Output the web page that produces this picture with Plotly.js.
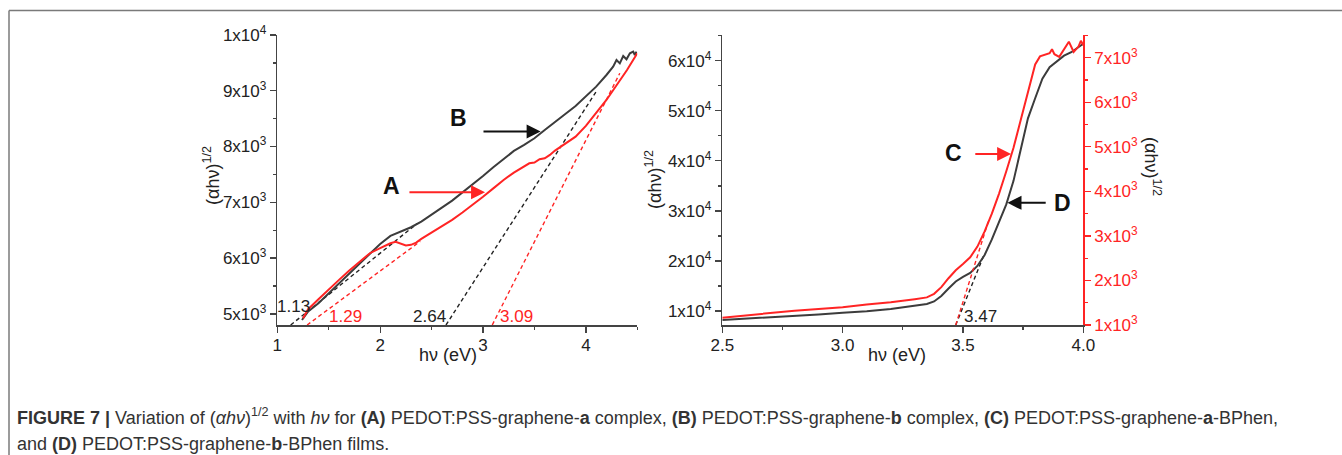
<!DOCTYPE html>
<html>
<head>
<meta charset="utf-8">
<script src="https://cdn.plot.ly/plotly-3.0.1.min.js"></script>
<style>
  html, body { margin: 0; padding: 0; background: #ffffff; }
  #fig { width: 1342px; height: 455px; }
</style>
</head>
<body>
<div id="fig"></div>
<script>
// ---- Panel 1: PEDOT:PSS-graphene-a (A) and -b (B) complexes ----
const energyB = [1.24, 1.30, 1.40, 1.50, 1.60, 1.70, 1.80, 1.90, 2.00, 2.10, 2.20, 2.30, 2.40, 2.50,
  2.60, 2.70, 2.80, 2.90, 3.00, 3.10, 3.20, 3.30, 3.40, 3.50, 3.60, 3.70, 3.80, 3.90, 4.00, 4.10,
  4.20, 4.265, 4.298, 4.330, 4.363, 4.395, 4.428, 4.460, 4.476, 4.492];
const signalB = [4890, 5042, 5191, 5370, 5550, 5717, 5908, 6087, 6254, 6398, 6475, 6553, 6655, 6774,
  6906, 7031, 7174, 7324, 7473, 7628, 7772, 7921, 8029, 8148, 8297, 8447, 8584, 8728, 8907, 9074,
  9283, 9432, 9552, 9492, 9624, 9564, 9671, 9701, 9641, 9701];

const energyA = [1.25, 1.30, 1.40, 1.50, 1.60, 1.70, 1.80, 1.90, 2.00, 2.10, 2.15, 2.20, 2.25, 2.30,
  2.35, 2.40, 2.50, 2.60, 2.70, 2.80, 2.90, 3.00, 3.10, 3.20, 3.30, 3.40, 3.45, 3.50, 3.55, 3.60,
  3.65, 3.70, 3.80, 3.90, 4.00, 4.10, 4.20, 4.30, 4.40, 4.50];
const signalA = [4922, 5084, 5263, 5442, 5609, 5777, 5938, 6087, 6177, 6266, 6290, 6254, 6225, 6237,
  6278, 6344, 6458, 6565, 6685, 6816, 6950, 7100, 7250, 7401, 7533, 7640, 7700, 7712, 7772, 7790,
  7849, 7927, 8059, 8178, 8369, 8596, 8835, 9104, 9373, 9672];

// tangent extrapolations: [start, end] pairs
const tangentB1X = [1.13, 2.36], tangentB1Y = [4800, 6620];
const tangentA1X = [1.29, 2.39], tangentA1Y = [4800, 6300];
const tangentB2X = [2.64, 4.10], tangentB2Y = [4800, 8985];
const tangentA2X = [3.09, 4.33], tangentA2Y = [4800, 9315];
const gapLabelsLeft = ['1.13', '1.29', '2.64', '3.09'];

const leftYTicks = [5000, 6000, 7000, 8000, 9000, 10000];
const leftYTickText = ['5x10<sup>3</sup>', '6x10<sup>3</sup>', '7x10<sup>3</sup>', '8x10<sup>3</sup>',
  '9x10<sup>3</sup>', '1x10<sup>4</sup>'];
const leftXTicks = [1, 2, 3, 4];

// ---- Panel 2: BPhen films, C (right axis) and D (left axis) ----
const energyD = [2.50, 2.60, 2.70, 2.80, 2.90, 3.00, 3.10, 3.20, 3.30, 3.35, 3.38, 3.41, 3.44, 3.47,
  3.50, 3.53, 3.56, 3.59, 3.62, 3.65, 3.68, 3.71, 3.74, 3.77, 3.80, 3.83, 3.86, 3.89, 3.92, 3.95,
  3.98, 4.00];
const signalD = [8200, 8450, 8750, 9000, 9300, 9650, 9950, 10400, 11000, 11400, 11900, 13000, 14500,
  15900, 16800, 17600, 19000, 21200, 24300, 27800, 31300, 36000, 42000, 48500, 52500, 56400, 58700,
  59900, 61000, 61700, 62800, 63400];

const energyC = [2.50, 2.60, 2.70, 2.80, 2.90, 3.00, 3.10, 3.20, 3.30, 3.35, 3.38, 3.41, 3.44, 3.47,
  3.50, 3.53, 3.56, 3.59, 3.62, 3.65, 3.68, 3.71, 3.74, 3.77, 3.80, 3.82, 3.84, 3.86, 3.87, 3.88,
  3.90, 3.92, 3.94, 3.96, 3.98, 3.99, 4.00];
const signalC = [1165, 1220, 1270, 1320, 1360, 1400, 1460, 1510, 1580, 1620, 1700, 1850, 2050, 2230,
  2370, 2520, 2760, 3100, 3500, 3950, 4450, 4980, 5600, 6250, 6850, 7030, 7060, 7100, 7190, 7080,
  7020, 7180, 7360, 7130, 7250, 7380, 7280];

const tangentDX = [3.47, 3.59], tangentDY = [7200, 21500];
const tangentCX = [3.47, 3.605], tangentCY = [1000, 3320];
const gapLabelRight = '3.47';

const rightXTicks = [2.5, 3.0, 3.5, 4.0];
const rightYTicks = [10000, 20000, 30000, 40000, 50000, 60000];
const rightYTickText = ['1x10<sup>4</sup>', '2x10<sup>4</sup>', '3x10<sup>4</sup>', '4x10<sup>4</sup>',
  '5x10<sup>4</sup>', '6x10<sup>4</sup>'];
const redYTicks = [1000, 2000, 3000, 4000, 5000, 6000, 7000];
const redYTickText = ['1x10<sup>3</sup>', '2x10<sup>3</sup>', '3x10<sup>3</sup>', '4x10<sup>3</sup>',
  '5x10<sup>3</sup>', '6x10<sup>3</sup>', '7x10<sup>3</sup>'];

// ---- styling ----
const W = 1342, H = 455;
const px = v => v / W;          // horizontal pixel -> paper
const py = v => 1 - v / H;      // vertical pixel -> paper
const FONT = 'Liberation Sans, Arial, sans-serif';
const RED = '#ff2424';
const DARK = '#3c3c3c';
const AXIS = '#444444';

const leftDomainX = [px(277.3), px(637.3)];
const rightDomainX = [px(722.3), px(1083.3)];
const domainY = [py(325), py(35)];

function lineTrace(x, y, color, xa, ya, dashed) {
  return {
    type: 'scatter', mode: 'lines', x: x, y: y, xaxis: xa, yaxis: ya,
    line: dashed ? { color: color, width: 1.4, dash: '4px,3px' } : { color: color, width: 2 },
    hoverinfo: 'skip', showlegend: false
  };
}

const traces = [
  lineTrace(tangentB1X, tangentB1Y, '#222', 'x', 'y', true),
  lineTrace(tangentA1X, tangentA1Y, RED, 'x', 'y', true),
  lineTrace(tangentB2X, tangentB2Y, '#222', 'x', 'y', true),
  lineTrace(tangentA2X, tangentA2Y, RED, 'x', 'y', true),
  lineTrace(energyB, signalB, DARK, 'x', 'y', false),
  lineTrace(energyA, signalA, RED, 'x', 'y', false),
  lineTrace(tangentDX, tangentDY, '#222', 'x2', 'y3', true),
  lineTrace(tangentCX, tangentCY, RED, 'x2', 'y4', true),
  lineTrace(energyD, signalD, DARK, 'x2', 'y3', false),
  lineTrace(energyC, signalC, RED, 'x2', 'y4', false)
];

const tickFont = { family: FONT, size: 17, color: '#222' };
const baseAxis = {
  showgrid: false, zeroline: false, showline: true, linecolor: AXIS, linewidth: 1.5,
  ticks: 'outside', ticklen: 6, tickwidth: 1.3, tickcolor: AXIS, tickfont: tickFont
};
function axis(extra) { return Object.assign({}, baseAxis, extra); }

const layout = {
  width: W, height: H,
  margin: { l: 0, r: 0, t: 0, b: 0 },
  paper_bgcolor: '#ffffff', plot_bgcolor: 'rgba(0,0,0,0)',
  font: { family: FONT, color: '#222' },
  showlegend: false,
  xaxis: axis({
    domain: leftDomainX, anchor: 'y', range: [1, 4.5], tickmode: 'array', tickvals: leftXTicks,
    ticklabelstandoff: -2,
    minor: { tickmode: 'linear', tick0: 1, dtick: 0.5, ticks: 'outside', ticklen: 3, tickcolor: AXIS }
  }),
  yaxis: axis({
    domain: domainY, anchor: 'x', range: [4800, 10000], tickmode: 'array',
    tickvals: leftYTicks, ticktext: leftYTickText,
    minor: { tickmode: 'linear', tick0: 0, dtick: 500, ticks: 'outside', ticklen: 3, tickcolor: AXIS }
  }),
  xaxis3: axis({
    overlaying: 'x', side: 'top', anchor: 'y', range: [1, 4.5], ticks: 'inside', ticklen: 5,
    tickmode: 'array', tickvals: leftXTicks, showticklabels: false,
    minor: { tickmode: 'linear', tick0: 1, dtick: 0.5, ticks: 'inside', ticklen: 3, tickcolor: AXIS }
  }),
  yaxis5: axis({
    overlaying: 'y', side: 'right', anchor: 'x', range: [4800, 10000], ticks: 'inside', ticklen: 5,
    tickmode: 'array', tickvals: leftYTicks, showticklabels: false,
    minor: { tickmode: 'linear', tick0: 0, dtick: 500, ticks: 'inside', ticklen: 3, tickcolor: AXIS }
  }),
  xaxis2: axis({
    domain: rightDomainX, anchor: 'y3', range: [2.5, 4.0], tickmode: 'array', tickvals: rightXTicks,
    tickformat: '.1f', ticklabelstandoff: -2,
    minor: { tickmode: 'linear', tick0: 2.5, dtick: 0.25, ticks: 'outside', ticklen: 3, tickcolor: AXIS }
  }),
  xaxis4: axis({
    overlaying: 'x2', side: 'top', anchor: 'y3', range: [2.5, 4.0], ticks: 'inside', ticklen: 5,
    tickmode: 'array', tickvals: rightXTicks, showticklabels: false,
    minor: { tickmode: 'linear', tick0: 2.5, dtick: 0.25, ticks: 'inside', ticklen: 3, tickcolor: AXIS }
  }),
  yaxis3: axis({
    domain: domainY, anchor: 'x2', range: [7200, 65140], tickmode: 'array',
    tickvals: rightYTicks, ticktext: rightYTickText,
    minor: { tickmode: 'linear', tick0: 0, dtick: 5000, ticks: 'outside', ticklen: 3, tickcolor: AXIS }
  }),
  yaxis4: axis({
    overlaying: 'y3', side: 'right', anchor: 'x2', range: [1000, 7510], tickmode: 'array',
    tickvals: redYTicks, ticktext: redYTickText, linecolor: RED, tickcolor: RED,
    tickfont: { family: FONT, size: 17, color: RED },
    minor: { tickmode: 'linear', tick0: 0, dtick: 500, ticks: 'outside', ticklen: 3, tickcolor: RED }
  }),
  shapes: [
    { type: 'line', xref: 'paper', yref: 'paper', x0: px(9), x1: 1, y0: py(10.5), y1: py(10.5),
      line: { color: '#7a7a7a', width: 1.5 } },
    { type: 'line', xref: 'paper', yref: 'paper', x0: px(9), x1: px(9), y0: py(10.5), y1: 0,
      line: { color: '#7a7a7a', width: 1.5 } }
  ],
  annotations: []
};

const ann = layout.annotations;
const titleFont = { family: FONT, size: 18, color: '#222' };
const yTitle = '(αhν)<sup>1/2</sup>';

// axis titles
ann.push({ xref: 'paper', yref: 'paper', x: px(448), y: py(355), text: 'hν (eV)', showarrow: false,
  font: titleFont, xanchor: 'center', yanchor: 'middle' });
ann.push({ xref: 'paper', yref: 'paper', x: px(897), y: py(355), text: 'hν (eV)', showarrow: false,
  font: titleFont, xanchor: 'center', yanchor: 'middle' });
ann.push({ xref: 'paper', yref: 'paper', x: px(212), y: py(176), text: yTitle, textangle: -90,
  showarrow: false, font: titleFont, xanchor: 'center', yanchor: 'middle' });
ann.push({ xref: 'paper', yref: 'paper', x: px(654), y: py(180), text: yTitle, textangle: -90,
  showarrow: false, font: titleFont, xanchor: 'center', yanchor: 'middle' });
ann.push({ xref: 'paper', yref: 'paper', x: px(1153), y: py(166), text: yTitle, textangle: 90,
  showarrow: false, font: titleFont, xanchor: 'center', yanchor: 'middle' });

// intercept labels
const valFont = c => ({ family: FONT, size: 17, color: c });
ann.push({ xref: 'x', yref: 'y', x: 1.155, y: 5140, text: gapLabelsLeft[0], showarrow: false, font: valFont('#222') });
ann.push({ xref: 'x', yref: 'y', x: 1.66, y: 4945, text: gapLabelsLeft[1], showarrow: false, font: valFont(RED) });
ann.push({ xref: 'x', yref: 'y', x: 2.475, y: 4945, text: gapLabelsLeft[2], showarrow: false, font: valFont('#222') });
ann.push({ xref: 'x', yref: 'y', x: 3.33, y: 4945, text: gapLabelsLeft[3], showarrow: false, font: valFont(RED) });
ann.push({ xref: 'x2', yref: 'y3', x: 3.571, y: 8800, text: gapLabelRight, showarrow: false, font: valFont('#222') });

// curve letters
const letterFont = { family: FONT, size: 23, color: '#111' };
ann.push({ xref: 'x', yref: 'y', x: 2.76, y: 8510, text: '<b>B</b>', showarrow: false, font: letterFont });
ann.push({ xref: 'x', yref: 'y', x: 2.11, y: 7300, text: '<b>A</b>', showarrow: false, font: letterFont });
ann.push({ xref: 'x2', yref: 'y4', x: 3.46, y: 4850, text: '<b>C</b>', showarrow: false, font: letterFont });
ann.push({ xref: 'x2', yref: 'y3', x: 3.915, y: 31500, text: '<b>D</b>', showarrow: false, font: letterFont });

// pointer arrows (head at x,y; tail at ax,ay)
function arrow(xa, ya, x, y, ax, ay, color) {
  return { xref: xa, yref: ya, axref: xa, ayref: ya, x: x, y: y, ax: ax, ay: ay, text: '',
    showarrow: true, arrowhead: 2, arrowsize: 1.4, arrowwidth: 2, arrowcolor: color, standoff: 0 };
}
ann.push(arrow('x', 'y', 3.56, 8268, 2.99, 8268, '#111'));
ann.push(arrow('x', 'y', 3.02, 7180, 2.27, 7180, RED));
ann.push(arrow('x2', 'y4', 3.70, 4840, 3.545, 4840, RED));
ann.push(arrow('x2', 'y3', 3.685, 31600, 3.85, 31600, '#111'));

// caption
const capFont = { family: FONT, size: 18, color: '#333' };
ann.push({ xref: 'paper', yref: 'paper', x: px(15), y: py(416), xanchor: 'left', yanchor: 'middle',
  showarrow: false, font: capFont, align: 'left',
  text: '<b>FIGURE 7 |</b> Variation of (<i>αhν</i>)<sup>1/2</sup> with <i>hν</i> for <b>(A)</b> PEDOT:PSS-graphene-<b>a</b> complex, <b>(B)</b> PEDOT:PSS-graphene-<b>b</b> complex, <b>(C)</b> PEDOT:PSS-graphene-<b>a</b>-BPhen,' });
ann.push({ xref: 'paper', yref: 'paper', x: px(15), y: py(444), xanchor: 'left', yanchor: 'middle',
  showarrow: false, font: capFont, align: 'left',
  text: 'and <b>(D)</b> PEDOT:PSS-graphene-<b>b</b>-BPhen films.' });

Plotly.newPlot('fig', traces, layout, { staticPlot: true, displayModeBar: false });
</script>
</body>
</html>
